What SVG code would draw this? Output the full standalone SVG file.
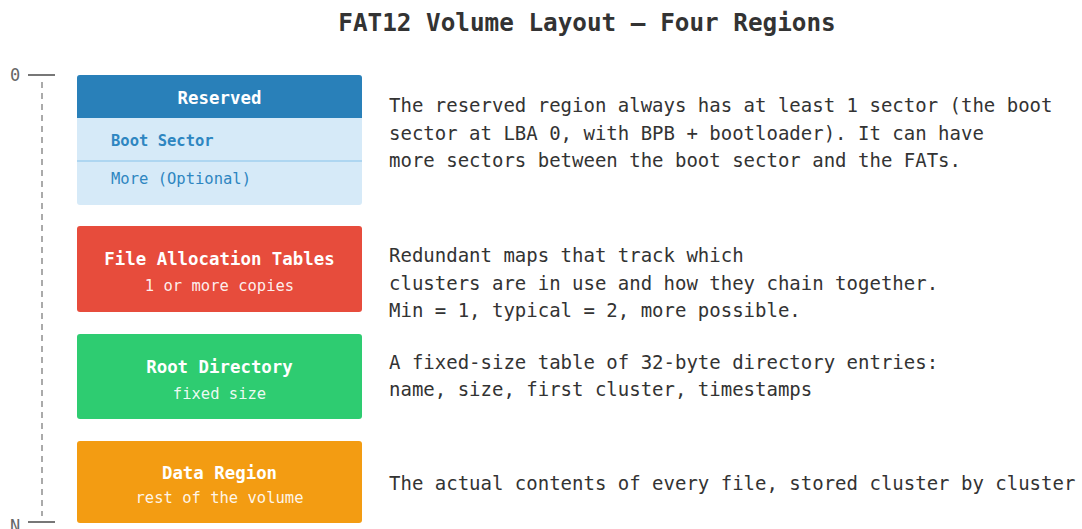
<svg xmlns="http://www.w3.org/2000/svg" width="1082" height="529" viewBox="0 0 1082 529">
  <style>
    text { font-family: "DejaVu Sans Mono", "Liberation Mono", monospace; }
    .title { font-size: 24.3px; font-weight: bold; fill: #333333; }
    .desc { font-size: 19px; fill: #333333; }
    .head { font-size: 17.4px; font-weight: bold; fill: #ffffff; }
    .sub { font-size: 15.5px; fill: #ffffff; fill-opacity: 0.92; }
    .row { font-size: 15.5px; fill: #2e86c1; }
    .axis-label { font-size: 17px; fill: #666666; }
    .axis { stroke: #aaaaaa; stroke-width: 2; stroke-dasharray: 6 5; fill: none; }
    .tick { stroke: #777777; stroke-width: 2; }
  </style>

  <rect width="1082" height="529" fill="#ffffff"/>

  <text class="title" x="587" y="31" text-anchor="middle">FAT12 Volume Layout — Four Regions</text>

  <!-- offset axis: 0 at the top, N at the end of the volume -->
  <g id="axis">
    <line class="axis" x1="42" y1="82" x2="42" y2="516"/>
    <line class="tick" x1="28" y1="75" x2="55" y2="75"/>
    <line class="tick" x1="28" y1="522" x2="55" y2="522"/>
    <text class="axis-label" x="15" y="81" text-anchor="middle">0</text>
    <text class="axis-label" x="15" y="532" text-anchor="middle">N</text>
  </g>

  <g id="reserved">
    <rect x="77" y="75" width="285" height="130" rx="3" fill="#d6eaf8"/>
    <path d="M77 118 V78 a3 3 0 0 1 3 -3 H359 a3 3 0 0 1 3 3 V118 Z" fill="#2980b9"/>
    <line x1="77" y1="161" x2="362" y2="161" stroke="#aed6f1" stroke-width="2"/>
    <text class="head" x="219.5" y="104" text-anchor="middle">Reserved</text>
    <text class="row" x="111" y="146" font-weight="bold">Boot Sector</text>
    <text class="row" x="111" y="184">More (Optional)</text>
  </g>

  <g id="fat">
    <rect x="77" y="226" width="285" height="86" rx="3" fill="#e74c3c"/>
    <text class="head" x="219.5" y="265" text-anchor="middle">File Allocation Tables</text>
    <text class="sub" x="219.5" y="291" text-anchor="middle">1 or more copies</text>
  </g>

  <g id="root">
    <rect x="77" y="334" width="285" height="85" rx="3" fill="#2ecc71"/>
    <text class="head" x="219.5" y="373" text-anchor="middle">Root Directory</text>
    <text class="sub" x="219.5" y="399" text-anchor="middle">fixed size</text>
  </g>

  <g id="data">
    <rect x="77" y="441" width="285" height="82" rx="3" fill="#f39c12"/>
    <text class="head" x="219.5" y="479" text-anchor="middle">Data Region</text>
    <text class="sub" x="219.5" y="503" text-anchor="middle">rest of the volume</text>
  </g>

  <g id="descriptions">
    <text class="desc" x="389" y="112">The reserved region always has at least 1 sector (the boot</text>
    <text class="desc" x="389" y="140">sector at LBA 0, with BPB + bootloader). It can have</text>
    <text class="desc" x="389" y="167">more sectors between the boot sector and the FATs.</text>

    <text class="desc" x="389" y="262">Redundant maps that track which</text>
    <text class="desc" x="389" y="290">clusters are in use and how they chain together.</text>
    <text class="desc" x="389" y="317">Min = 1, typical = 2, more possible.</text>

    <text class="desc" x="389" y="369">A fixed-size table of 32-byte directory entries:</text>
    <text class="desc" x="389" y="396">name, size, first cluster, timestamps</text>

    <text class="desc" x="389" y="490">The actual contents of every file, stored cluster by cluster</text>
  </g>
</svg>
